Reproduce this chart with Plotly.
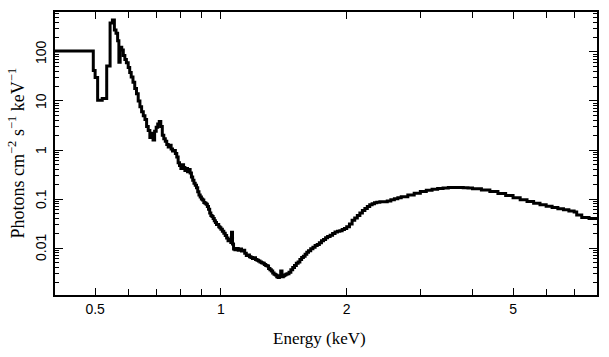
import math
import plotly.graph_objects as go

# Bin lower edges (keV) and flux (photons cm^-2 s^-1 keV^-1)
energy_lo = [
    0.400, 0.495, 0.500, 0.507, 0.520, 0.533, 0.543, 0.550, 0.556, 0.561,
    0.566, 0.570, 0.574, 0.579, 0.584, 0.589, 0.594, 0.600, 0.605, 0.610,
    0.616, 0.622, 0.628, 0.634, 0.640, 0.646, 0.652, 0.658, 0.664, 0.670,
    0.676, 0.682, 0.688, 0.694, 0.700, 0.706, 0.712, 0.718, 0.724, 0.730,
    0.736, 0.742, 0.748, 0.754, 0.760, 0.766, 0.772, 0.778, 0.784, 0.790,
    0.796, 0.802, 0.808, 0.814, 0.820, 0.826, 0.832, 0.838, 0.844, 0.850,
    0.856, 0.862, 0.868, 0.874, 0.880, 0.886, 0.892, 0.898, 0.904, 0.910,
    0.916, 0.922, 0.928, 0.934, 0.940, 0.946, 0.952, 0.958, 0.964, 0.970,
    0.976, 0.982, 0.988, 0.994, 1.000, 1.008, 1.016, 1.024, 1.032, 1.040,
    1.048, 1.056, 1.060, 1.066, 1.072, 1.080, 1.090, 1.100, 1.110, 1.120,
    1.130, 1.140, 1.150, 1.160, 1.170, 1.180, 1.190, 1.200, 1.210, 1.220,
    1.230, 1.240, 1.250, 1.260, 1.270, 1.280, 1.290, 1.300, 1.310, 1.320,
    1.330, 1.340, 1.350, 1.360, 1.370, 1.380, 1.390, 1.400, 1.410, 1.420,
    1.430, 1.440, 1.455, 1.470, 1.485, 1.500, 1.515, 1.530, 1.545, 1.560,
    1.575, 1.590, 1.605, 1.620, 1.640, 1.660, 1.680, 1.700, 1.720, 1.740,
    1.760, 1.780, 1.800, 1.825, 1.850, 1.875, 1.900, 1.925, 1.950, 1.975,
    2.000, 2.030, 2.060, 2.090, 2.120, 2.150, 2.180, 2.210, 2.240, 2.270,
    2.300, 2.330, 2.360, 2.400, 2.450, 2.500, 2.550, 2.600, 2.650, 2.700,
    2.800, 2.900, 3.000, 3.100, 3.200, 3.300, 3.400, 3.500, 3.600, 3.700,
    3.800, 3.900, 4.000, 4.200, 4.400, 4.600, 4.800, 5.000, 5.200, 5.400,
    5.600, 5.800, 6.000, 6.200, 6.400, 6.600, 6.800, 7.000, 7.100, 7.300,
    7.600,
]
energy_last_edge = 7.95

flux = [
    105, 42, 30, 10.3, 11.2, 52, 390, 450, 280, 240,
    170, 62, 125, 110, 85, 70, 60, 48, 38, 31,
    24, 18, 14, 10, 7.6, 6.0, 5.0, 4.2, 3.0, 2.5,
    1.8, 2.2, 1.6, 2.4, 2.9, 3.4, 3.8, 3.0, 2.0, 1.7,
    1.5, 1.3, 1.15, 1.25, 1.05, 0.95, 0.98, 0.85, 0.72, 0.55,
    0.48, 0.42, 0.50, 0.44, 0.38, 0.42, 0.36, 0.40, 0.34, 0.28,
    0.24, 0.21, 0.19, 0.17, 0.14, 0.12, 0.11, 0.10, 0.095, 0.085,
    0.082, 0.078, 0.070, 0.062, 0.052, 0.046, 0.044, 0.040, 0.036, 0.033,
    0.030, 0.030, 0.027, 0.026, 0.024, 0.022, 0.020, 0.018, 0.016, 0.014,
    0.015, 0.013, 0.021, 0.012, 0.0095, 0.0092, 0.0098, 0.0090, 0.0095, 0.0087,
    0.0090, 0.0078, 0.0070, 0.0072, 0.0066, 0.0064, 0.0061, 0.0063, 0.0058, 0.0056,
    0.0054, 0.0052, 0.0050, 0.0049, 0.0046, 0.0044, 0.0043, 0.0038, 0.0036, 0.0034,
    0.0031, 0.0029, 0.0028, 0.0026, 0.0025, 0.0027, 0.0034, 0.0026, 0.0027, 0.0028,
    0.0029, 0.0030, 0.0032, 0.0036, 0.0040, 0.0044, 0.0049, 0.0052, 0.0058, 0.0064,
    0.0068, 0.0075, 0.0082, 0.0088, 0.0096, 0.0104, 0.0112, 0.0118, 0.0128, 0.0140,
    0.0150, 0.0162, 0.0172, 0.0182, 0.0198, 0.0212, 0.0220, 0.0225, 0.0238, 0.0250,
    0.0270, 0.0310, 0.0370, 0.0410, 0.0460, 0.0520, 0.0580, 0.0640, 0.0700, 0.0760,
    0.0800, 0.0840, 0.0860, 0.0880, 0.0880, 0.0910, 0.0960, 0.1010, 0.1060, 0.1110,
    0.1200, 0.1310, 0.1420, 0.1500, 0.1580, 0.1640, 0.1680, 0.1710, 0.1720, 0.1720,
    0.1700, 0.1670, 0.1620, 0.1530, 0.1420, 0.1300, 0.1180, 0.1060, 0.0970, 0.0890,
    0.0820, 0.0760, 0.0710, 0.0670, 0.0630, 0.0600, 0.0570, 0.0540, 0.0470, 0.0420,
    0.0400,
]

x_tick_vals = [0.5, 1, 2, 5]
x_tick_text = ["0.5", "1", "2", "5"]
x_minor_vals = [0.4, 0.6, 0.7, 0.8, 0.9, 3, 4, 6, 7]
y_tick_vals = [0.01, 0.1, 1, 10, 100]
y_tick_text = ["0.01", "0.1", "1", "10", "100"]
y_minor_vals = [m * d for d in [0.001, 0.01, 0.1, 1, 10, 100] for m in range(2, 10)]

x_title = "Energy (keV)"
y_title = "Photons cm<sup>\u22122</sup> s<sup>\u22121</sup> keV<sup>\u22121</sup>"

x_step = energy_lo + [energy_last_edge]
y_step = flux + [flux[-1]]

fig = go.Figure()
fig.add_trace(go.Scatter(
    x=x_step, y=y_step, mode="lines",
    line=dict(color="black", width=3, shape="hv"),
    showlegend=False,
))

tick_font = dict(family="Liberation Sans, Arial, sans-serif", size=14, color="black")
xtitle_font = dict(family="Liberation Serif, Times New Roman, serif", size=17, color="black")
ytitle_font = dict(family="Liberation Serif, Times New Roman, serif", size=18, color="black")

annotations = []
# rotated y tick labels (as in the reference)
for v, t in zip(y_tick_vals, y_tick_text):
    annotations.append(dict(
        text=t, xref="paper", x=0, yref="y", y=math.log10(v),
        xshift=-14, textangle=-90, showarrow=False,
        xanchor="center", yanchor="middle", font=tick_font,
    ))
annotations.append(dict(
    text=x_title, xref="paper", x=0.5, yref="paper", y=0, yshift=-43, xshift=-7,
    showarrow=False, xanchor="center", yanchor="middle", font=xtitle_font,
))
annotations.append(dict(
    text=y_title, xref="paper", x=0, yref="paper", y=0.5, xshift=-38, yshift=0,
    textangle=-90, showarrow=False, xanchor="center", yanchor="middle", font=ytitle_font,
))

fig.update_layout(
    width=609, height=357,
    margin=dict(l=55, r=12, t=12, b=62, autoexpand=False),
    paper_bgcolor="white", plot_bgcolor="white",
    annotations=annotations,
    xaxis=dict(
        type="log", range=[-0.397, 0.8998], automargin=False,
        tickmode="array", tickvals=x_tick_vals, ticktext=x_tick_text,
        ticks="inside", ticklen=7, tickwidth=1.2, tickcolor="black",
        minor=dict(tickmode="array", tickvals=x_minor_vals, ticks="inside",
                   ticklen=6, tickwidth=1.2, tickcolor="black", showgrid=False),
        showline=True, linecolor="black", linewidth=2, mirror="ticks",
        showgrid=False, zeroline=False,
        tickfont=tick_font,
    ),
    yaxis=dict(
        type="log", range=[-2.959, 2.816], automargin=False,
        tickmode="array", tickvals=y_tick_vals, ticktext=y_tick_text,
        showticklabels=False,
        ticks="inside", ticklen=8, tickwidth=1.2, tickcolor="black",
        minor=dict(tickmode="array", tickvals=y_minor_vals, ticks="inside",
                   ticklen=4, tickwidth=1.2, tickcolor="black", showgrid=False),
        showline=True, linecolor="black", linewidth=2, mirror="ticks",
        showgrid=False, zeroline=False,
    ),
)

fig.write_html(
    "out.html",
    config={"displayModeBar": False},
    post_script="document.body.style.margin='0';document.body.style.padding='0';"
                "document.documentElement.style.overflow='hidden';",
)
